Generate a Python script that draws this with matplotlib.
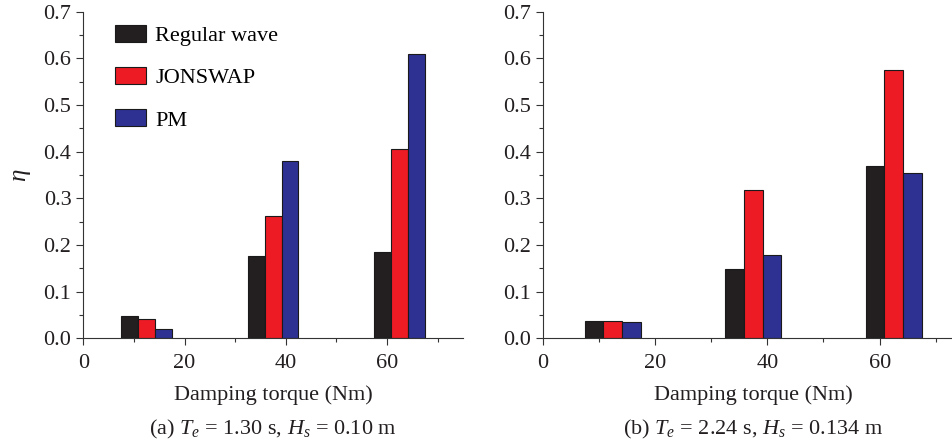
import numpy as np
import matplotlib
matplotlib.use("Agg")
import matplotlib.pyplot as plt
from matplotlib.ticker import MultipleLocator, FormatStrFormatter
from matplotlib.patches import Patch

plt.rcParams['font.family'] = ['Liberation Serif', 'DejaVu Serif']
plt.rcParams['mathtext.fontset'] = 'custom'
plt.rcParams['mathtext.rm'] = 'Liberation Serif'
plt.rcParams['mathtext.it'] = 'Liberation Serif:italic'

series = ["Regular wave", "JONSWAP", "PM"]
colors = ["#231f20", "#ed1c24", "#2e3192"]
groupCenters = [12.5, 37.5, 62.5]

# panel (a)
regularA = [0.048, 0.177, 0.184]
jonswapA = [0.041, 0.263, 0.405]
pmA = [0.019, 0.381, 0.609]
# panel (b)
regularB = [0.036, 0.148, 0.370]
jonswapB = [0.037, 0.318, 0.575]
pmB = [0.034, 0.178, 0.354]

captions = ["(a) $T_e$ = 1.30 s, $H_s$ = 0.10 m",
            "(b) $T_e$ = 2.24 s, $H_s$ = 0.134 m"]

fig = plt.figure(figsize=(9.52, 4.46), dpi=100)
axA = fig.add_axes([0.0875, 0.2415, 0.3987, 0.7323])
axB = fig.add_axes([0.570, 0.2415, 0.4425, 0.7323])

barWidth = 10.0 / 3
fs = 16
textColor = "#231f20"

def drawPanel(ax, data, caption):
    centers = np.array(groupCenters)
    for k, vals in enumerate(data):
        ax.bar(centers + (k - 1) * barWidth, vals, width=barWidth,
               color=colors[k], edgecolor="#1a1a1a", linewidth=0.8, zorder=2)
    ax.set_xlim(0, 75)
    ax.set_ylim(0, 0.7)
    ax.spines['top'].set_visible(False)
    ax.spines['right'].set_visible(False)
    for s in ['left', 'bottom']:
        ax.spines[s].set_color("#333333")
    ax.xaxis.set_major_locator(MultipleLocator(20))
    ax.xaxis.set_minor_locator(MultipleLocator(10))
    ax.yaxis.set_major_locator(MultipleLocator(0.1))
    ax.yaxis.set_minor_locator(MultipleLocator(0.05))
    ax.yaxis.set_major_formatter(FormatStrFormatter('%.1f'))
    ax.tick_params(which='major', direction='out', length=5, width=0.8,
                   labelsize=fs, labelcolor=textColor, color="#333333")
    ax.tick_params(axis='x', which='major', pad=6)
    ax.tick_params(which='minor', direction='out', length=3, width=0.8, color="#333333")
    ax.set_xlabel("Damping torque (Nm)", fontsize=fs, labelpad=9, color=textColor)
    ax.text(0.5, -0.28, caption, transform=ax.transAxes, ha='center', va='center',
            fontsize=fs, color=textColor)

drawPanel(axA, [regularA, jonswapA, pmA], captions[0])
drawPanel(axB, [regularB, jonswapB, pmB], captions[1])
axA.set_ylabel(r"$\eta$", fontsize=fs + 2, labelpad=8, color=textColor)

handles = [Patch(facecolor=colors[k], edgecolor="#1a1a1a", linewidth=0.8) for k in range(3)]
axA.legend(handles, series, loc='upper left', bbox_to_anchor=(0.084, 0.96), frameon=False,
           fontsize=fs, handlelength=1.4, handleheight=0.8, labelspacing=0.95,
           handletextpad=0.4, borderaxespad=0, borderpad=0)

fig.savefig("out.png", dpi=100)
